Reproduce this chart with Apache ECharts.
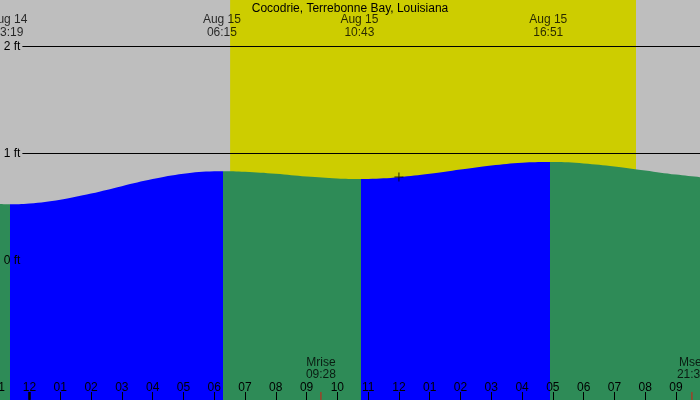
<!DOCTYPE html>
<html>
<head>
<meta charset="utf-8">
<title>Cocodrie tide</title>
<script src="https://cdn.jsdelivr.net/npm/echarts@6/dist/echarts.min.js"></script>
<style>
    html, body { margin: 0; padding: 0; background: #bebebe; }
    #tideChart { width: 700px; height: 400px; }
</style>
</head>
<body>
<div id="tideChart"></div>
<script>
var stationName = 'Cocodrie, Terrebonne Bay, Louisiana';
// hours counted from Aug 15 00:00, heights in ft
var hourMarks = [-1, 0, 1, 2, 3, 4, 5, 6, 7, 8, 9, 10, 11, 12, 13, 14, 15, 16, 17, 18, 19, 20, 21, 22];
var hourFeet = [0.523, 0.527, 0.563, 0.621, 0.690, 0.756, 0.806, 0.829, 0.825, 0.806, 0.780, 0.762,
                0.758, 0.774, 0.805, 0.845, 0.883, 0.909, 0.916, 0.903, 0.875, 0.837, 0.798, 0.767];
// high / low water
var extremeDays = ['Aug 14', 'Aug 15', 'Aug 15', 'Aug 15'];
var extremeClock = ['23:19', '06:15', '10:43', '16:51'];
var extremeFeet = [0.52, 0.83, 0.757, 0.916];
// sunrise / sunset (daylight band)
var sunClock = ['06:31', '19:42'];
// moon
var moonNames = ['Mrise', 'Mset'];
var moonClock = ['09:28', '21:31'];
// marker on the curve
var crossHour = 12, crossFeet = 0.775;
var feetLabels = [0, 1, 2];

var GRAY = '#bebebe', YELLOW = '#cdcd00', BLUE = '#0000ff', GREEN = '#2e8b57';
var CLEAR = 'rgba(0,0,0,0)';

function toHours(day, clock) {
    let p = clock.split(':');
    return (day === 'Aug 14' ? -24 : 0) + parseInt(p[0], 10) + parseInt(p[1], 10) / 60;
}
function pad2(n) { return (n < 10 ? '0' : '') + n; }

// all points of the curve, sorted by time
var allPts = [];
hourMarks.forEach(function (h, i) { allPts.push([h, hourFeet[i]]); });
var extremeHours = extremeClock.map(function (c, i) { return toHours(extremeDays[i], c); });
extremeHours.forEach(function (h, i) { allPts.push([h, extremeFeet[i]]); });
allPts.sort(function (a, b) { return a[0] - b[0]; });

// rising water blue, falling water green (colour changes a few minutes after the turn)
var colorLag = 0.05;
var pieces = [];
var cuts = [-Infinity].concat(extremeHours.map(function (h) { return h + colorLag; }), [Infinity]);
for (let i = 0; i < cuts.length - 1; i++) {
    let rising = (i === 0) ? extremeFeet[0] > hourFeet[0] : extremeFeet[i] > extremeFeet[i - 1];
    let piece = { color: rising ? BLUE : GREEN };
    if (cuts[i] !== -Infinity) piece.gte = cuts[i];
    if (cuts[i + 1] !== Infinity) piece.lt = cuts[i + 1];
    pieces.push(piece);
}

var sunHours = sunClock.map(function (c) { return toHours('Aug 15', c); });
var moonHours = moonClock.map(function (c) { return toHours('Aug 15', c); });

var myChart = echarts.init(document.getElementById('tideChart'));
var option = {
    animation: false,
    backgroundColor: GRAY,
    textStyle: { fontFamily: 'Liberation Sans, Arial, sans-serif' },
    title: {
        text: stationName,
        left: 'center',
        top: -2,
        textStyle: { fontSize: 12, fontWeight: 'normal', color: '#000' }
    },
    grid: { left: -1.3, right: -6.8, top: -61, bottom: -74, outerBoundsMode: 'none', containLabel: false },
    visualMap: {
        type: 'piecewise',
        show: false,
        dimension: 0,
        seriesIndex: 1,
        pieces: pieces
    },
    xAxis: {
        type: 'value',
        min: -1,
        max: 22,
        interval: 1,
        z: 10,
        offset: -74,   // put the hour axis on the bottom edge of the picture
        axisLine: { show: false, onZero: false },
        splitLine: { show: false },
        axisTick: { inside: true, length: 8, lineStyle: { color: '#000', width: 1 } },
        axisLabel: {
            inside: true,
            margin: 6.5,
            showMaxLabel: false,
            color: '#000',
            fontSize: 12,
            formatter: function (v) {
                if (Math.round(v) !== v) return '';
                let hh = ((v % 12) + 12) % 12;
                return pad2(hh === 0 ? 12 : hh);
            }
        }
    },
    yAxis: [
        {   // the ft lines, under the water
            type: 'value', min: -2, max: 3, interval: 1, z: 1,
            axisLine: { show: false }, axisTick: { show: false }, axisLabel: { show: false },
            splitLine: { lineStyle: { color: '#000', width: 1 } }
        },
        {   // the ft labels, over everything
            type: 'value', min: -2, max: 3, interval: 1, z: 10, position: 'left',
            axisLine: { show: false, onZero: false }, axisTick: { show: false }, splitLine: { show: false },
            axisLabel: {
                inside: true,
                margin: 0,
                fontSize: 12,
                color: '#000',
                formatter: function (v) {
                    if (feetLabels.indexOf(v) < 0) return '';
                    return (v === 0 ? '{n|' : '{g|') + v + ' ft}';
                },
                rich: {
                    g: { backgroundColor: GRAY, padding: [3, 2, 1, 5], fontSize: 12, color: '#000' },
                    n: { padding: [3, 2, 1, 5], fontSize: 12, color: '#000' }
                }
            }
        }
    ],
    series: [
        {   // daylight band
            type: 'line',
            silent: true,
            showSymbol: false,
            lineStyle: { opacity: 0 },
            data: [[sunHours[0], 2], [sunHours[1], 2]],
            markArea: {
                z: -1,
                silent: true,
                itemStyle: { color: YELLOW },
                data: [[{ xAxis: sunHours[0] }, { xAxis: sunHours[1] }]]
            }
        },
        {   // the water
            type: 'line',
            z: 2,
            silent: true,
            smooth: 0.4,
            showSymbol: false,
            lineStyle: { width: 0 },
            areaStyle: { opacity: 1, origin: 'start' },
            data: allPts
        },
        {   // high / low labels at the top
            type: 'scatter',
            z: 10,
            silent: true,
            symbolSize: 1,
            itemStyle: { color: CLEAR },
            labelLayout: { hideOverlap: false },
            label: {
                show: true, position: 'inside', color: '#000', fontSize: 12, lineHeight: 13,
                formatter: function (p) { return extremeDays[p.dataIndex] + '\n' + extremeClock[p.dataIndex]; }
            },
            data: extremeHours.map(function (h) { return [h, 2.185]; })
        },
        {   // moon rise / set labels
            type: 'scatter',
            z: 10,
            silent: true,
            symbolSize: 1,
            itemStyle: { color: CLEAR },
            label: {
                show: true, position: 'inside', color: '#000', fontSize: 12, lineHeight: 12,
                formatter: function (p) { return moonNames[p.dataIndex] + '\n' + moonClock[p.dataIndex]; }
            },
            data: moonHours.map(function (h) { return [h, -1.015]; })
        },
        {   // red moon ticks
            type: 'scatter',
            z: 11,
            silent: true,
            symbol: 'rect',
            symbolSize: [1, 8],
            itemStyle: { color: '#ff0000' },
            data: moonHours.map(function (h) { return [h, -1.27]; })
        },
        {   // midnight tick is bold
            type: 'scatter',
            z: 11,
            silent: true,
            symbol: 'rect',
            symbolSize: [3, 8],
            itemStyle: { color: '#000' },
            data: [[0, -1.27]]
        },
        {   // + marker
            type: 'scatter',
            z: 11,
            silent: true,
            symbol: 'path://M0,4h9v1h-9zM4,0h1v9h-1z',
            symbolSize: 9,
            itemStyle: { color: '#000' },
            data: [[crossHour, crossFeet]]
        }
    ]
};
myChart.setOption(option);
</script>
</body>
</html>
